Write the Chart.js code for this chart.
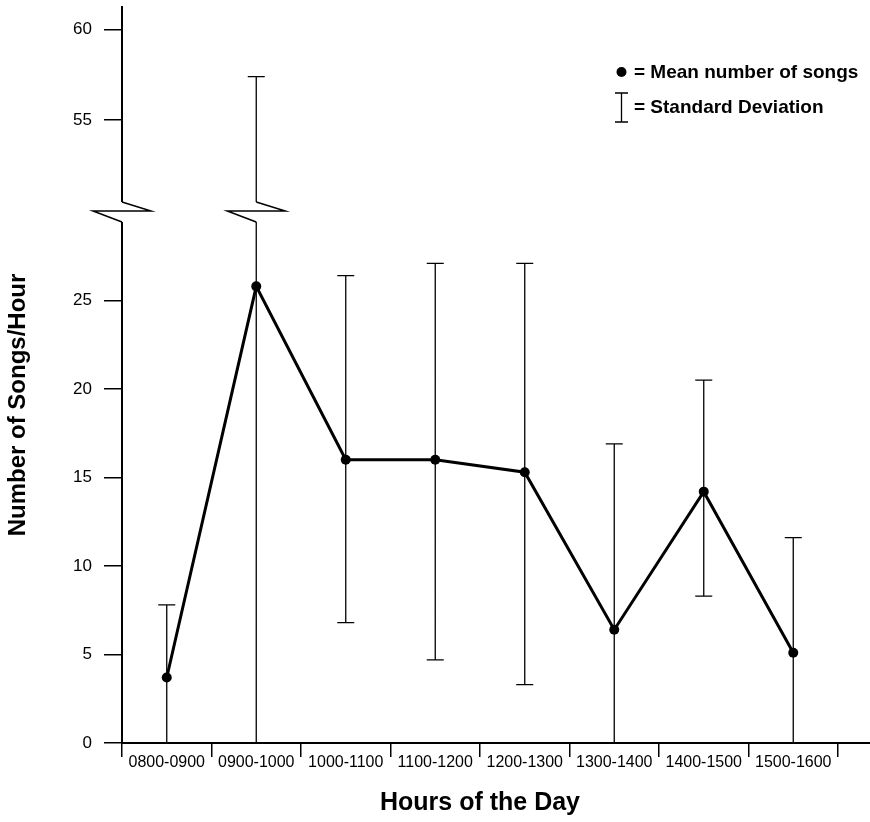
<!DOCTYPE html>
<html>
<head>
<meta charset="utf-8">
<title>Number of Songs/Hour</title>
<script src="https://cdn.jsdelivr.net/npm/chart.js@4.4.1/dist/chart.umd.min.js"></script>
<style>
  html, body { margin: 0; padding: 0; background: #fff; }
  canvas { display: block; }
</style>
</head>
<body>
<canvas id="chartSongs" width="870" height="822"></canvas>
<script>
// values
const categories = ['0800-0900', '0900-1000', '1000-1100', '1100-1200', '1200-1300', '1300-1400', '1400-1500', '1500-1600'];
const meanSongs = [3.7, 25.8, 16.0, 16.0, 15.3, 6.4, 14.2, 5.1];
const sdTop = [7.8, 57.4, 26.4, 27.1, 27.1, 16.9, 20.5, 11.6];
const sdBottom = [0, 0, 6.8, 4.7, 3.3, 0, 8.3, 0];
const lowTicks = [0, 5, 10, 15, 20, 25];
const highTicks = [55, 60];

const xTitle = 'Hours of the Day';
const yTitle = 'Number of Songs/Hour';
const legendMean = '= Mean number of songs';
const legendSd = '= Standard Deviation';

const FONT = "'Liberation Sans', Arial, Helvetica, sans-serif";
Chart.defaults.font.family = FONT;
Chart.defaults.color = '#000';

// error bars, drawn under the mean line
const errorBars = {
    id: 'errorBars',
    beforeDatasetsDraw(chart) {
        const { ctx, scales: { x, yLow, yHigh } } = chart;
        const cap = 8.5;
        ctx.save();
        ctx.strokeStyle = '#000';
        ctx.lineWidth = 1.3;
        ctx.beginPath();
        const capAt = (px, py) => { ctx.moveTo(px - cap, py); ctx.lineTo(px + cap, py); };
        categories.forEach((c, i) => {
            const px = x.getPixelForValue(i);
            const yb = yLow.getPixelForValue(sdBottom[i]);
            if (sdTop[i] <= yLow.max) {
                const yt = yLow.getPixelForValue(sdTop[i]);
                ctx.moveTo(px, yb); ctx.lineTo(px, yt);
                capAt(px, yt);
            } else {
                // goes over the break: lower piece + upper piece
                ctx.moveTo(px, yb); ctx.lineTo(px, yLow.top);
                const yt = yHigh.getPixelForValue(sdTop[i]);
                ctx.moveTo(px, yHigh.bottom); ctx.lineTo(px, yt);
                capAt(px, yt);
            }
            if (sdBottom[i] > 0) capAt(px, yb);
        });
        ctx.stroke();
        ctx.restore();
    }
};

// break marks, axis extension, y title and the legend box
const decorations = {
    id: 'decorations',
    afterDraw(chart) {
        const { ctx, chartArea, scales: { x, yLow } } = chart;
        const by = yLow.top;
        ctx.save();
        ctx.strokeStyle = '#000';
        ctx.lineWidth = 1.5;

        const zig = (px) => {
            ctx.fillStyle = '#fff';
            ctx.fillRect(px - 4, by - 10, 8, 20);
            ctx.beginPath();
            ctx.moveTo(px, by + 10);
            ctx.lineTo(px - 29, by - 1);
            ctx.lineTo(px + 29, by - 1);
            ctx.lineTo(px, by - 10);
            ctx.stroke();
        };
        zig(chartArea.left);
        categories.forEach((c, i) => {
            if (sdTop[i] > yLow.max) zig(x.getPixelForValue(i));
        });

        // x axis line runs on to the right edge
        ctx.lineWidth = 2;
        ctx.beginPath();
        ctx.moveTo(chartArea.right, chartArea.bottom);
        ctx.lineTo(chart.width, chartArea.bottom);
        ctx.stroke();

        // y title
        ctx.fillStyle = '#000';
        ctx.font = 'bold 24px ' + FONT;
        ctx.textAlign = 'center';
        ctx.textBaseline = 'middle';
        ctx.translate(18, 405);
        ctx.rotate(-Math.PI / 2);
        ctx.fillText(yTitle, 0, 0);
        ctx.setTransform(1, 0, 0, 1, 0, 0);

        // legend
        ctx.font = 'bold 19px ' + FONT;
        ctx.textAlign = 'left';
        ctx.beginPath();
        ctx.arc(621.5, 72, 5, 0, Math.PI * 2);
        ctx.fill();
        ctx.fillText(legendMean, 634, 73);
        ctx.lineWidth = 1.3;
        ctx.beginPath();
        ctx.moveTo(621.5, 93); ctx.lineTo(621.5, 122);
        ctx.moveTo(615, 93); ctx.lineTo(628, 93);
        ctx.moveTo(615, 122); ctx.lineTo(628, 122);
        ctx.stroke();
        ctx.fillText(legendSd, 634, 108);
        ctx.restore();
    }
};

// fixed y axis width, and no extra label padding above/below the stack
const fitY = s => {
    s.width = 122;
    s.paddingTop = 0;
    s.paddingBottom = 0;
};

const yTickFont = { size: 17 };
const ctx = document.getElementById('chartSongs').getContext('2d');
new Chart(ctx, {
    type: 'line',
    data: {
        labels: categories,
        datasets: [{
            label: 'Mean number of songs',
            data: meanSongs,
            yAxisID: 'yLow',
            borderColor: '#000',
            backgroundColor: '#000',
            borderWidth: 3,
            pointRadius: 5,
            pointBackgroundColor: '#000',
            pointBorderWidth: 0,
            tension: 0,
            fill: false
        }]
    },
    options: {
        responsive: false,
        animation: false,
        layout: { padding: { top: 7, right: 32, left: 0, bottom: 0 } },
        plugins: { legend: { display: false }, tooltip: { enabled: false } },
        scales: {
            x: {
                type: 'category',
                offset: true,
                afterFit: s => { s.height = 79; s.paddingLeft = 0; s.paddingRight = 0; },
                grid: { drawOnChartArea: false, offset: true, tickLength: 14, color: '#000', lineWidth: 1.5 },
                border: { color: '#000', width: 2 },
                ticks: { font: { size: 16 }, color: '#000', padding: -4, maxRotation: 0, autoSkip: false },
                title: { display: true, text: xTitle, color: '#000', font: { size: 25, weight: 'bold' }, padding: { top: 0, bottom: 4 } }
            },
            yLow: {
                type: 'linear',
                position: 'left',
                stack: 'songs',
                stackWeight: 531,
                weight: 0,
                min: 0,
                max: 30,
                afterBuildTicks: s => { s.ticks = lowTicks.map(v => ({ value: v })); },
                afterFit: fitY,
                grid: { drawOnChartArea: false, tickLength: 18, color: '#000', lineWidth: 1.5 },
                border: { color: '#000', width: 2 },
                ticks: { font: yTickFont, color: '#000', padding: 12 }
            },
            yHigh: {
                type: 'linear',
                position: 'left',
                stack: 'songs',
                stackWeight: 205,
                weight: 1,
                min: 49.9,
                max: 61.25,
                afterBuildTicks: s => { s.ticks = highTicks.map(v => ({ value: v })); },
                afterFit: fitY,
                grid: { drawOnChartArea: false, tickLength: 18, color: '#000', lineWidth: 1.5 },
                border: { color: '#000', width: 2 },
                ticks: { font: yTickFont, color: '#000', padding: 12 }
            }
        }
    },
    plugins: [errorBars, decorations]
});
</script>
</body>
</html>
